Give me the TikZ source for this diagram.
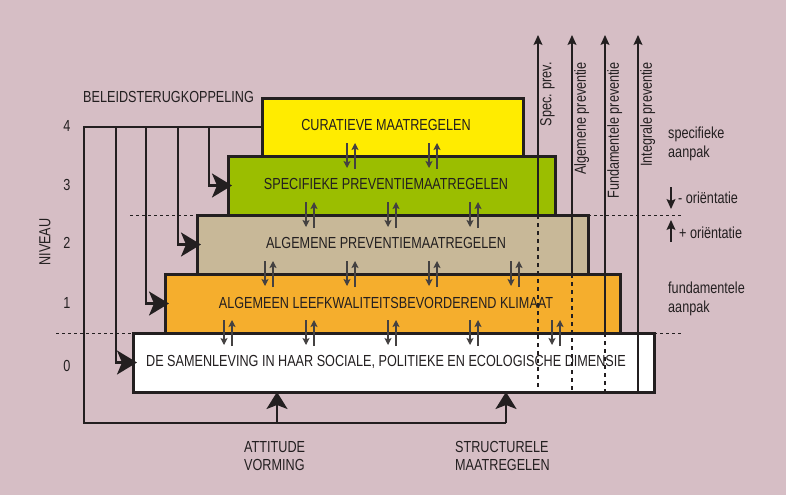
\documentclass[tikz,border=0pt]{standalone}
\usepackage{fontspec}
\setmainfont{Liberation Sans}[FakeStretch=0.79]
\usepackage{tikz}
\usetikzlibrary{arrows.meta}
\definecolor{bgpink}{RGB}{214,190,197}
\definecolor{ink}{RGB}{35,31,32}
\definecolor{curyellow}{RGB}{255,236,0}
\definecolor{spvgreen}{RGB}{155,190,0}
\definecolor{algtan}{RGB}{200,184,152}
\definecolor{lkworange}{RGB}{245,174,45}

\begin{document}
\begin{tikzpicture}[x=1pt, y=-1pt,
    level/.style={rectangle, draw=ink, line width=3pt, inner sep=0pt, outer sep=0pt, fill=#1},
    level/.default=white,
    txt/.style={font=\fontsize{16}{18.5}\selectfont, text=ink, inner sep=0pt},
    feed/.style={draw=ink, line width=2.2pt},
    feedarrow/.style={feed, -{Stealth[length=20pt, width=24pt, inset=5pt]}},
    uparrow/.style={feed, -{Stealth[length=17pt, width=21pt, inset=4pt]}},
    prev/.style={draw=ink, line width=1.2pt},
    prevarrow/.style={prev, -{Stealth[length=10pt, width=9pt, inset=2pt]}},
    small/.style={draw=ink!85, line width=1.1pt, -{Stealth[length=7pt, width=7pt, inset=1.5pt]}},
    divider/.style={draw=ink, line width=0.9pt, dash pattern=on 3pt off 3pt},
]
\fill[bgpink] (0,0) rectangle (786,495);
\useasboundingbox (0,0) rectangle (786,495);

\node[level=curyellow, minimum width=261pt, minimum height=58pt] (cur) at (392.5,127) {};
\node[level=spvgreen, minimum width=327pt, minimum height=59pt] (spv) at (391.5,185.5) {};
\node[level=algtan, minimum width=391pt, minimum height=59pt] (alg) at (392.5,244.5) {};
\node[level=lkworange, minimum width=455pt, minimum height=59pt] (lkw) at (392.5,303.5) {};
\node[level, minimum width=521pt, minimum height=59pt] (sam) at (393.5,362.5) {};

\node[txt] (curtxt) at (386,125) {CURATIEVE MAATREGELEN};
\node[txt] (spvtxt) at (386,184) {SPECIFIEKE PREVENTIEMAATREGELEN};
\node[txt] (algtxt) at (386,243) {ALGEMENE PREVENTIEMAATREGELEN};
\node[txt] (lkwtxt) at (386,303) {ALGEMEEN LEEFKWALITEITSBEVORDEREND KLIMAAT};
\node[txt] (samtxt) at (386,362) {DE SAMENLEVING IN HAAR SOCIALE, POLITIEKE EN ECOLOGISCHE DIMENSIE};

\foreach \y/\xa/\n in {156/351/1, 215/310/2, 274/269/3, 333/228/4}
  \foreach \k in {0,...,\n} {
    \draw[small] (\xa+82*\k-4, \y-13) -- (\xa+82*\k-4, \y+12);
    \draw[small] (\xa+82*\k+4, \y+13) -- (\xa+82*\k+4, \y-13);
  }

\coordinate (spectop) at (538,35);
\coordinate (algtop) at (572,35);
\coordinate (fundtop) at (605,35);
\coordinate (inttop) at (638,35);
\draw[prevarrow] (spectop |- spv.south) -- (spectop);
\draw[prev, dash pattern=on 4pt off 4pt] (spectop |- spv.south) -- (spectop |- sam.south);
\draw[prevarrow] (algtop |- alg.south) -- (algtop);
\draw[prev, dash pattern=on 4pt off 4pt] (algtop |- alg.south) -- (algtop |- sam.south);
\draw[prevarrow] (fundtop |- lkw.south) -- (fundtop);
\draw[prev, dash pattern=on 4pt off 4pt] (fundtop |- lkw.south) -- (fundtop |- sam.south);
\draw[prevarrow] (inttop |- sam.south) -- (inttop);
\node[txt, rotate=90, anchor=north east] (spectxt) at (540,62) {Spec. prev.};
\node[txt, rotate=90, anchor=north east] (algprev) at (574,62) {Algemene preventie};
\node[txt, rotate=90, anchor=north east] (fundprev) at (607,62) {Fundamentele preventie};
\node[txt, rotate=90, anchor=north east] (intprev) at (640,62) {Integrale preventie};

\coordinate (divl2) at (130,215);
\coordinate (divr2) at (683,215);
\coordinate (divl1) at (56,333);
\coordinate (divr1) at (683,333);
\draw[divider] (divl2) -- (alg.north west);
\draw[divider] (alg.north east) -- (divr2);
\draw[divider] (divl1) -- (sam.north west);
\draw[divider] (sam.north east) -- (divr1);

\node[txt, align=left, anchor=west] (specaanpak) at (668,144) {specifieke\\aanpak};
\node[txt, align=left, anchor=west] (fundaanpak) at (668,299) {fundamentele\\aanpak};
\node[txt, anchor=west] (ormin) at (678,198) {- oriëntatie};
\node[txt, anchor=west] (orplus) at (679,233) {+ oriëntatie};
\coordinate (minA) at (671,187);
\coordinate (minB) at (671,209);
\coordinate (plusA) at (671,242);
\coordinate (plusB) at (671,220);
\draw[prevarrow] (minA) -- (minB);
\draw[prevarrow] (plusA) -- (plusB);

\foreach \n/\y in {4/126, 3/185, 2/243, 1/303, 0/366}
  \node[txt] (niv\n) at (67,\y) {\n};
\node[txt, rotate=90] (niveau) at (45,242) {NIVEAU};
\node[txt, anchor=west] (beleid) at (83,97) {BELEIDSTERUGKOPPELING};

\coordinate (fb0) at (84,127);
\coordinate (fb1) at (116,127);
\coordinate (fb2) at (146,127);
\coordinate (fb3) at (178,127);
\coordinate (fb4) at (209,127);
\coordinate (att) at (277,423);
\coordinate (str) at (506,423);
\draw[feed] (cur.west) -- (fb0) |- (str);
\draw[feed] (fb4) |- (spv.west);
\draw[feed] (fb3) |- (alg.west);
\draw[feed] (fb2) |- (lkw.west);
\draw[feed] (fb1) |- (sam.west);
\draw[feedarrow] (fb4 |- spv.west) -- ([xshift=4pt]spv.west);
\draw[feedarrow] (fb3 |- alg.west) -- ([xshift=4pt]alg.west);
\draw[feedarrow] (fb2 |- lkw.west) -- ([xshift=4pt]lkw.west);
\draw[feedarrow] (fb1 |- sam.west) -- ([xshift=4pt]sam.west);
\draw[uparrow] (att) -- (att |- sam.south);
\draw[uparrow] (str) -- (str |- sam.south);

\node[txt, align=left, anchor=north west] (attitude) at (244,441) {ATTITUDE\\VORMING};
\node[txt, align=left, anchor=north west] (structureel) at (455,441) {STRUCTURELE\\MAATREGELEN};
\end{tikzpicture}
\end{document}
